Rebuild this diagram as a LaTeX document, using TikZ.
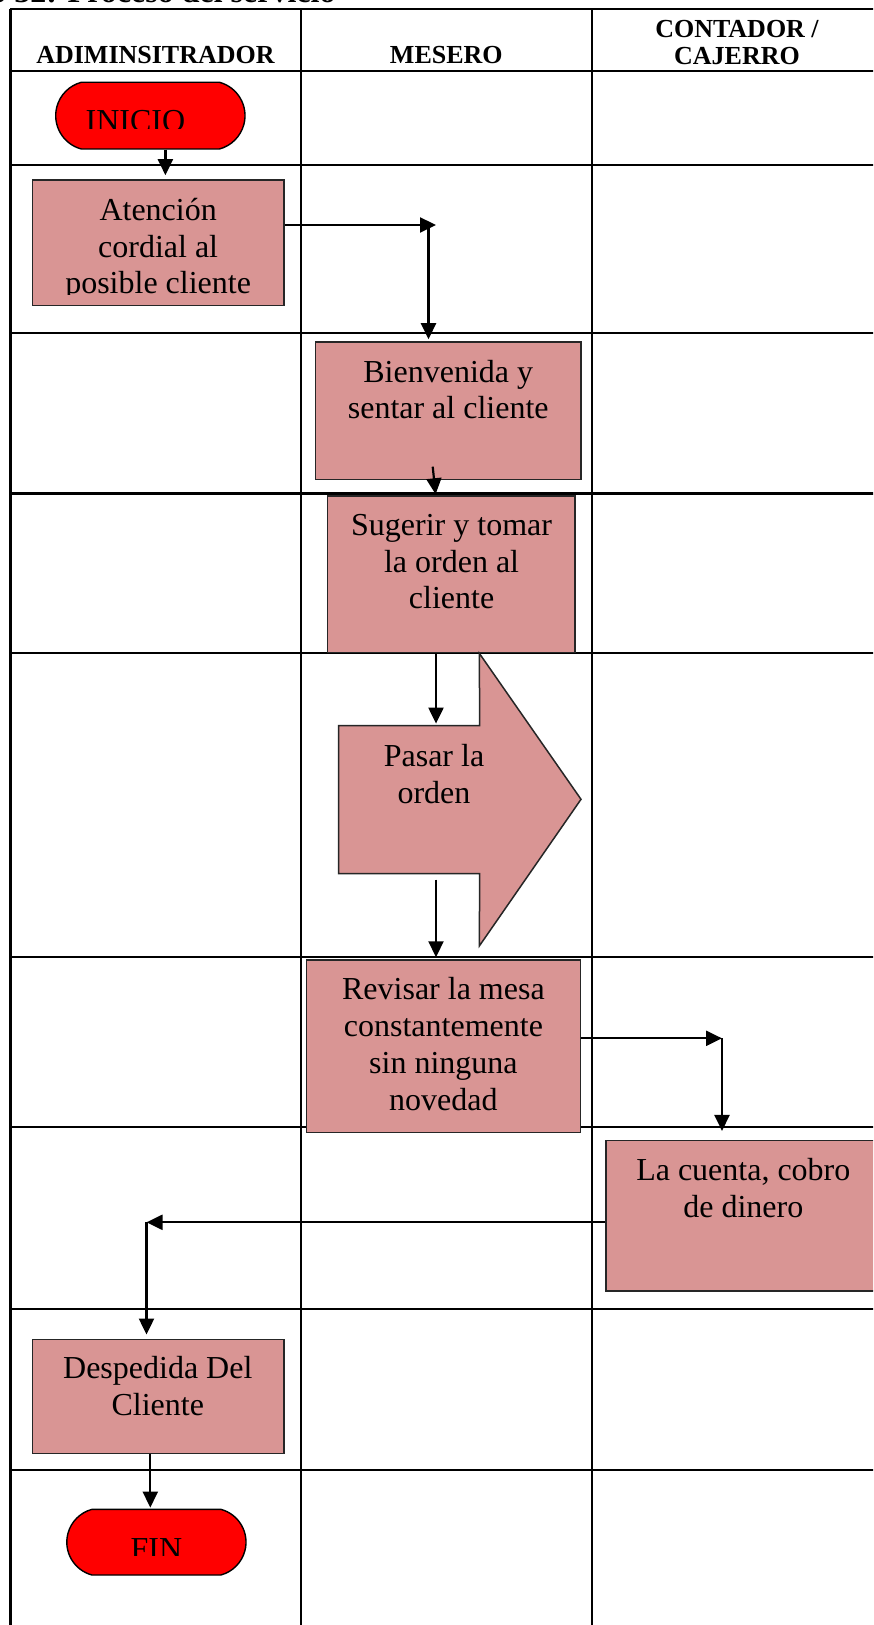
\documentclass[tikz,border=0pt]{standalone}
\usepackage{fontspec}
\setmainfont{Liberation Serif}
\usetikzlibrary{arrows.meta,shapes.misc}
\definecolor{boxpink}{HTML}{D99594}
\definecolor{termred}{HTML}{FF0000}
\begin{document}
\begin{tikzpicture}[x=0.5pt,y=-0.5pt,
  grid/.style={line width=1.1pt,black},
  box/.style={draw=black!85,line width=0.75pt,fill=boxpink,inner sep=0pt},
  term/.style={draw=black,line width=0.7pt,fill=termred,rounded rectangle,
    rounded rectangle arc length=150,inner sep=0pt},
  txt/.style={font=\fontsize{16}{18.4}\selectfont,align=center,inner sep=0pt,anchor=north},
  head/.style={font=\bfseries\fontsize{13}{13.75}\selectfont,align=center,inner sep=0pt},
  flow/.style={line width=1.1pt,-{Triangle[length=8pt,width=7.5pt]}},
]
\useasboundingbox (0,0) rectangle (873,1625);
\clip (0,0) rectangle (873,1625);
\fill[white] (0,0) rectangle (873,1625);

% caption above the table
\node[anchor=base west,inner sep=0pt,font=\bfseries\fontsize{16}{18}\selectfont] (caption)
  at (-10,2.5) {o 32: Proceso del servicio};

% swimlane table
\foreach \gx in {10.4,300.7,591.8,880}
  \draw[grid] (\gx,9.3) -- (\gx,1640);
\foreach \gy in {9.3,71,165,332.7,493.5,653,957.3,1126.7,1309,1470}
  \draw[grid] (10.4,\gy) -- (880,\gy);

% lane headers
\node[head,anchor=base] (hadmin) at (155.5,64) {ADIMINSITRADOR};
\node[head,anchor=base] (hmesero) at (446.3,64) {MESERO};
\node[head,anchor=north] (hcaja) at (737,17.5) {\strut CONTADOR /\\CAJERRO};

% start / end terminals
\node[term,minimum width=94.65pt,minimum height=33.35pt] (inicio) at (150.35,115.65) {};
\begin{scope}
  \clip (56,83) rectangle (245,129);
  \node[inner sep=0pt,anchor=base,font=\fontsize{16}{18}\selectfont] (inicioT) at (135.5,131.5) {INICIO};
\end{scope}
\node[term,minimum width=89.6pt,minimum height=32.85pt] (fin) at (156.4,1542.15) {};
\begin{scope}
  \clip (67,1510) rectangle (246,1555);
  \node[inner sep=0pt,anchor=base,font=\fontsize{16}{18}\selectfont] (finT) at (156.4,1559.3) {FIN};
\end{scope}

% process boxes
\node[box,minimum width=125.85pt,minimum height=62.85pt] (atencion) at (158.15,242.85) {};
\begin{scope}
  \clip (32,181) rectangle (284,294.5);
  \node[txt] (atencionT) at (158.15,194.2) {\strut Atención\\cordial al\\posible cliente};
\end{scope}

\node[box,minimum width=132.75pt,minimum height=68.65pt] (bienv) at (448.25,410.65) {};
\node[txt] (bienvT) at (448.25,356) {\strut Bienvenida y\\sentar al cliente};

\node[box,minimum width=123.65pt,minimum height=78.15pt] (sugerir) at (451.35,574.15) {};
\node[txt] (sugerirT) at (451.6,509.2) {\strut Sugerir y tomar\\la orden al\\cliente};

% block arrow "Pasar la orden"
\node[inner sep=0pt,minimum width=70.15pt,minimum height=73.65pt] (pasarbody) at (409.15,799.65) {};
\draw[box] (pasarbody.north west) -- (pasarbody.north east) -- (479.3,653.3)
  -- (581,799.3) -- (479.3,946) -- (pasarbody.south east) -- (pasarbody.south west) -- cycle;
\node[txt] (pasarT) at (434,740.2) {\strut Pasar la\\orden};

\node[box,minimum width=137.1pt,minimum height=86.35pt] (revisar) at (443.6,1046.35) {};
\node[txt] (revisarT) at (443.4,973.5) {\strut Revisar la mesa\\constantemente\\sin ninguna\\novedad};

\node[box,minimum width=137.3pt,minimum height=75.15pt] (cuenta) at (743.3,1215.85) {};
\node[txt] (cuentaT) at (743.3,1154.2) {\strut La cuenta, cobro\\de dinero};

\node[box,minimum width=125.85pt,minimum height=57.2pt] (despedida) at (158.15,1396.5) {};
\node[txt] (despedidaT) at (157.8,1352.5) {\strut Despedida Del\\Cliente};

% connectors
\coordinate (k1) at (165.4,0);
\draw[flow,shorten >=2pt] (inicio.south -| k1) -- (atencion.north -| k1);

\coordinate (c1) at (436,225);
\coordinate (c1v) at (428.5,225);
\draw[flow] (atencion.east |- c1) -- (c1);
\draw[flow,shorten >=1pt] (c1v) -- (bienv.north -| c1v);

\coordinate (s3) at (432.7,466.7);
\coordinate (e3) at (435.7,0);
\draw[flow,shorten >=0.5pt] (s3) -- (sugerir.north -| e3);

\coordinate (v4) at (436,0);
\draw[flow,shorten >=1pt] (sugerir.south -| v4) -- (pasarbody.north -| v4);
\draw[flow,shorten <=3pt,shorten >=1pt] (pasarbody.south -| v4) -- (revisar.north -| v4);

\coordinate (c2) at (722,1038.3);
\draw[flow] (revisar.east |- c2) -- (c2);
\draw[flow,shorten >=4.5pt] (c2) -- (cuenta.north -| c2);

\coordinate (c3) at (146.5,1222.3);
\draw[flow] (cuenta.west |- c3) -- (c3);
\draw[flow,shorten >=2pt] (c3) -- (despedida.north -| c3);

\coordinate (v8) at (150.3,0);
\draw[flow,shorten >=0.5pt] (despedida.south -| v8) -- (fin.north -| v8);
\end{tikzpicture}
\end{document}
